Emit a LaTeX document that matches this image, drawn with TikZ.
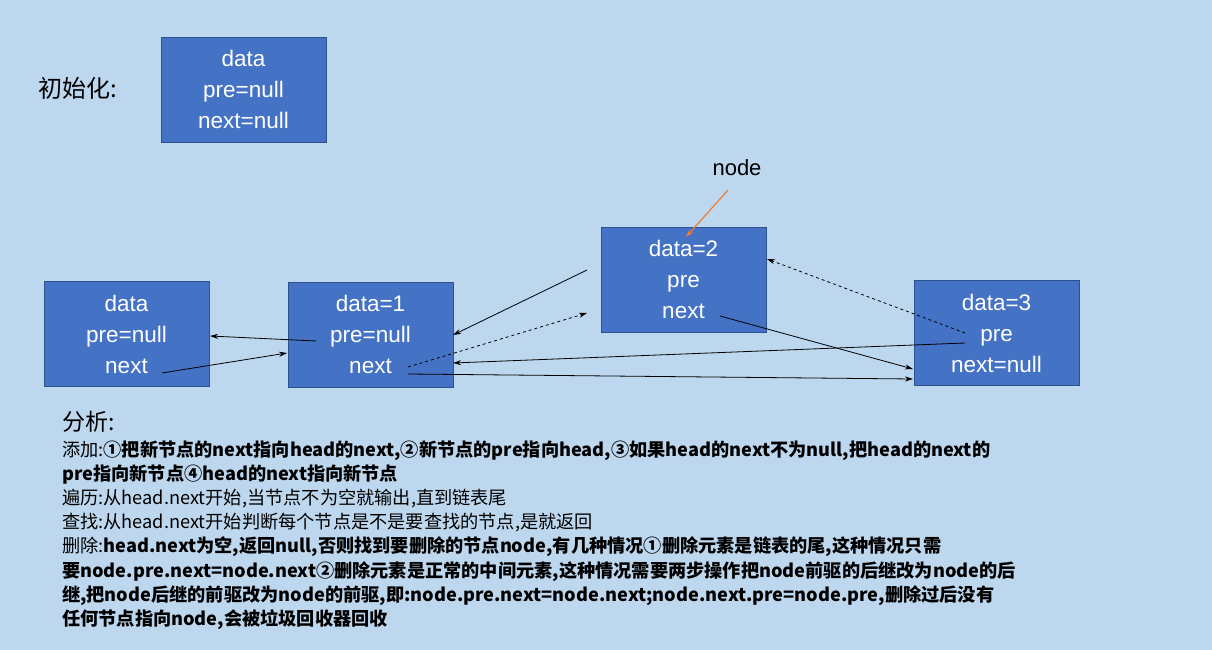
\documentclass[tikz,border=0pt]{standalone}
\usepackage{fontspec}
\setmainfont{Liberation Sans}
\newfontfamily\cjk{Noto Sans CJK SC}
\usetikzlibrary{arrows.meta}
\definecolor{bg}{HTML}{BDD7EE}
\definecolor{bx}{HTML}{4472C4}
\definecolor{bd}{HTML}{2F528F}
\definecolor{org}{HTML}{ED7D31}
\tikzset{
 box/.style={draw=bd,fill=bx,line width=0.8pt,minimum width=165pt,minimum height=105pt,text=white,font=\fontsize{22.5}{31}\selectfont,align=center,inner sep=0pt},
 arr/.style={-{Stealth[length=8pt,width=5pt]},line width=0.8pt},
 txt/.style={anchor=west,inner sep=0pt,font=\cjk\fontsize{18.2}{20}\selectfont}
}
\begin{document}
\begin{tikzpicture}[x=1pt,y=-1pt]
\fill[bg] (0,0) rectangle (1212,650);
\useasboundingbox (0,0) rectangle (1212,650);
\node[box] (init) at (243.5,89.5) {data\\pre=null\\next=null};
\node[box] (a) at (126.5,334) {data\\pre=null\\next};
\node[box] (b) at (370.5,334.5) {data=1\\pre=null\\next};
\node[box] (c) at (683.5,279.5) {data=2\\pre\\next};
\node[box] (d) at (996.5,333) {data=3\\pre\\next=null};
\node[anchor=west,inner sep=0pt,font=\cjk\fontsize{24}{26}\selectfont] (t0) at (38,88) {初始化:};
\node[font=\fontsize{22}{24}\selectfont,inner sep=0pt] (nl) at (737,168) {node};
\coordinate (o1) at (728,190); \coordinate (o2) at (686,237);
\draw[arr,org,line width=1.2pt] (o1) -- (o2);
\coordinate (an) at (162,373); \coordinate (bw) at (287,353);
\coordinate (bp) at (316,341); \coordinate (ae) at (210,336);
\coordinate (cl) at (587,270); \coordinate (be1) at (453,335);
\coordinate (bn) at (408,367); \coordinate (cw) at (587,313);
\coordinate (cn) at (720,316); \coordinate (dw1) at (913,369);
\coordinate (dp) at (965,333); \coordinate (ce) at (767,259);
\coordinate (dp2) at (965,343); \coordinate (be2) at (453,363);
\coordinate (bn2) at (408,374); \coordinate (dw2) at (913,379);
\draw[arr] (an) -- (bw);
\draw[arr] (bp) -- (ae);
\draw[arr] (cl) -- (be1);
\draw[arr,dashed] (bn) -- (cw);
\draw[arr] (cn) -- (dw1);
\draw[arr,dashed] (dp) -- (ce);
\draw[arr] (dp2) -- (be2);
\draw[arr] (bn2) -- (dw2);
\node[anchor=west,inner sep=0pt,font=\cjk\fontsize{23}{24}\selectfont] (t1) at (62,422) {分析:};
\node[txt] (l1) at (62,451) {添加:\textbf{①把新节点的next指向head的next,②新节点的pre指向head,③如果head的next不为null,把head的next的}};
\node[txt] (l2) at (62,475) {\textbf{pre指向新节点④head的next指向新节点}};
\node[txt] (l3) at (62,499) {遍历:从head.next开始,当节点不为空就输出,直到链表尾};
\node[txt] (l4) at (62,523) {查找:从head.next开始判断每个节点是不是要查找的节点,是就返回};
\node[txt] (l5) at (62,547) {删除:\textbf{head.next为空,返回null,否则找到要删除的节点node,有几种情况①删除元素是链表的尾,这种情况只需}};
\node[txt] (l6) at (62,572) {\textbf{要node.pre.next=node.next②删除元素是正常的中间元素,这种情况需要两步操作把node前驱的后继改为node的后}};
\node[txt] (l7) at (62,596) {\textbf{继,把node后继的前驱改为node的前驱,即:node.pre.next=node.next;node.next.pre=node.pre,删除过后没有}};
\node[txt] (l8) at (62,620) {\textbf{任何节点指向node,会被垃圾回收器回收}};
\end{tikzpicture}
\end{document}
